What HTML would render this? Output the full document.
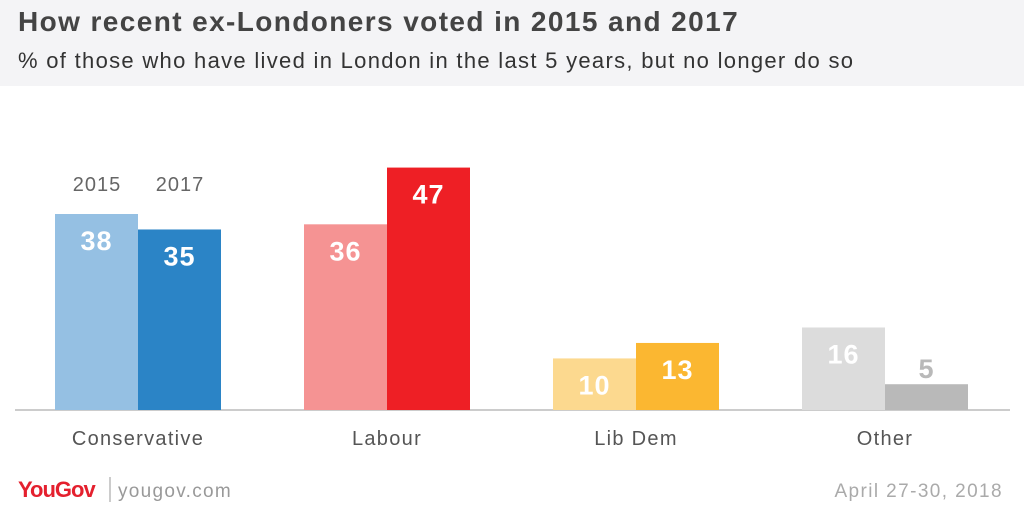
<!DOCTYPE html>
<html><head><meta charset="utf-8">
<style>
body{margin:0;width:1024px;height:512px;overflow:hidden;background:#fff;font-family:"Liberation Sans",sans-serif;}
#hdr{position:absolute;left:0;top:0;width:1024px;height:86px;background:#f4f4f6;}
#title{position:absolute;left:18px;top:6px;font-size:28px;font-weight:bold;color:#444;letter-spacing:1.4px;}
#sub{position:absolute;left:18px;top:48px;font-size:22px;color:#333;letter-spacing:1.3px;}
</style></head>
<body>
<div id="hdr">
<div id="title">How recent ex-Londoners voted in 2015 and 2017</div>
<div id="sub">% of those who have lived in London in the last 5 years, but no longer do so</div>
</div>
<svg id="chart" width="1024" height="512" style="position:absolute;left:0;top:0">
<line x1="15" y1="410" x2="1010" y2="410" stroke="#bbb" stroke-width="1.5"/>
<text x="97" y="191" font-size="20" fill="#666" text-anchor="middle" letter-spacing="1">2015</text>
<text x="180" y="191" font-size="20" fill="#666" text-anchor="middle" letter-spacing="1">2017</text>
<text x="18" y="497" font-size="22" font-weight="bold" fill="#e4202e" letter-spacing="-1">YouGov</text>
<line x1="110" y1="477" x2="110" y2="502" stroke="#999" stroke-width="1"/>
<text x="118" y="497" font-size="19" fill="#999" letter-spacing="1.3">yougov.com</text>
<text x="1003" y="497" font-size="19" fill="#aaa" text-anchor="end" letter-spacing="1.4">April 27-30, 2018</text>
</svg>
<script>
const categories=["Conservative","Labour","Lib Dem","Other"];
const values2015=[38,36,10,16];
const values2017=[35,47,13,5];
const colors2015=["#95c0e3","#f59393","#fcd98f","#dcdcdc"];
const colors2017=["#2b84c6","#ee1f25","#fbb731","#b9b9b9"];
const svg=document.getElementById('chart');
const NS="http://www.w3.org/2000/svg";
const baseY=410, scale=196/38, x0=55, groupStep=249, barW=83;
function y(v){return baseY-v*scale;}
function mk(tag,attrs){const e=document.createElementNS(NS,tag);for(const k in attrs)e.setAttribute(k,attrs[k]);svg.appendChild(e);return e;}
categories.forEach((c,i)=>{
  const gx=x0+i*groupStep;
  [[values2015,colors2015,'2015'],[values2017,colors2017,'2017']].forEach((s,j)=>{
    const v=s[0][i], bx=gx+j*barW, top=y(v), h=baseY-top;
    const r=mk('rect',{x:bx,y:top,width:barW,height:h,fill:s[1][i]});
    
    
    const inside=h>40;
    const t=mk('text',{x:bx+barW/2,y:inside?top+36:top-6,'font-size':27,'font-weight':'bold',fill:inside?'#fff':'#b9b9b9','text-anchor':'middle','letter-spacing':1});
    t.textContent=v;
    
    
  });
  const l=mk('text',{x:gx+barW,y:445,'font-size':20,fill:'#555','text-anchor':'middle','letter-spacing':1.3});
  l.textContent=c;
  
  
});
</script>
</body></html>
